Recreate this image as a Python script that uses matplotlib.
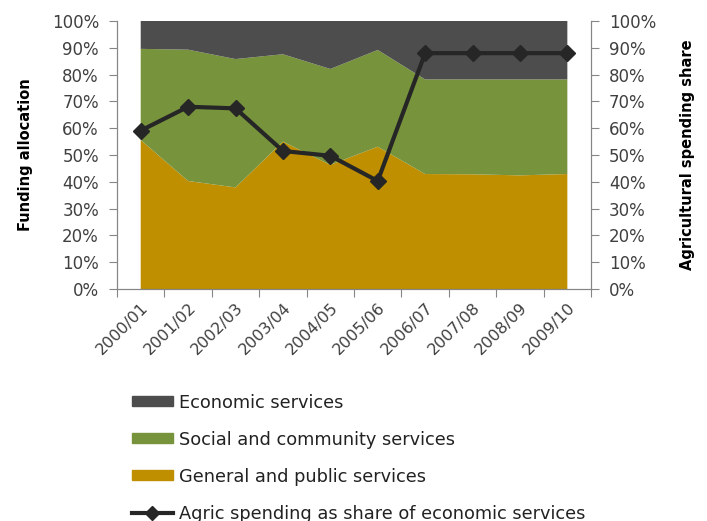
import numpy as np
import matplotlib
matplotlib.use("Agg")
import matplotlib.pyplot as plt
from matplotlib.patches import Patch
from matplotlib.lines import Line2D

plt.rcParams['font.family'] = ['DejaVu Sans']

years = ['2000/01', '2001/02', '2002/03', '2003/04', '2004/05',
         '2005/06', '2006/07', '2007/08', '2008/09', '2009/10']
general = [55.6, 40.3, 37.9, 55.0, 46.3, 53.1, 42.9, 42.8, 42.4, 42.9]
social_top = [89.6, 89.3, 85.8, 87.6, 82.1, 89.2, 78.2, 78.2, 78.2, 78.2]
social = [s - g for s, g in zip(social_top, general)]
economic = [100 - s for s in social_top]
agric = [59.1, 68.0, 67.4, 51.5, 49.7, 40.3, 88.0, 88.0, 88.0, 88.0]

c_gen = '#BF8F00'
c_soc = '#77933C'
c_eco = '#4D4D4D'
c_line = '#262626'
c_axis = '#868686'
c_text = '#404040'

fig = plt.figure(figsize=(7.07, 5.21), dpi=100)
ax = fig.add_axes([0.1655, 0.4453, 0.6705, 0.5144])
x = np.arange(len(years))
ax.stackplot(x, general, social, economic, colors=[c_gen, c_soc, c_eco], lw=0)
ax.set_xlim(-0.5, len(years) - 0.5)
ax.set_ylim(0, 100)
pct = ['%d%%' % v for v in range(0, 101, 10)]
ax.set_yticks(np.arange(0, 101, 10))
ax.set_yticklabels(pct, fontsize=12, color=c_text)
ax.set_xticks(np.arange(-0.5, len(years), 1.0))
ax.set_xticklabels([])
ax.set_xticks(x, minor=True)
ax.set_xticklabels(years, minor=True, rotation=45, ha='right',
                   rotation_mode='anchor', fontsize=11.5, color=c_text)
ax.tick_params(axis='x', which='minor', length=0, pad=8)
ax.tick_params(axis='both', which='major', color=c_axis, length=6, pad=7)
ax.spines['top'].set_visible(False)
for s in ['left', 'bottom', 'right']:
    ax.spines[s].set_color(c_axis)
ax.set_ylabel('Funding allocation', fontweight='bold', fontsize=10.5)
ax.yaxis.set_label_coords(-0.177, 0.5)

ax2 = ax.twinx()
ax2.plot(x, agric, color=c_line, lw=3, marker='D', markersize=8)
ax2.set_ylim(0, 100)
ax2.set_yticks(np.arange(0, 101, 10))
ax2.set_yticklabels(pct, fontsize=12, color=c_text)
ax2.tick_params(axis='y', color=c_axis, length=6, pad=7)
ax2.spines['top'].set_visible(False)
for s in ['left', 'bottom', 'right']:
    ax2.spines[s].set_color(c_axis)
ax2.set_ylabel('Agricultural spending share', fontweight='bold', fontsize=10.5)
ax2.yaxis.set_label_coords(1.188, 0.5)

handles = [Patch(color=c_eco), Patch(color=c_soc), Patch(color=c_gen),
           Line2D([], [], color=c_line, lw=3, marker='D', markersize=7)]
labels = ['Economic services', 'Social and community services',
          'General and public services',
          'Agric spending as share of economic services']
fig.legend(handles, labels, loc='upper left', bbox_to_anchor=(0.1765, 0.258),
           frameon=False, fontsize=12.8, handlelength=2.3, handleheight=0.5,
           labelspacing=1.07, handletextpad=0.34, borderaxespad=0,
           labelcolor='#222222')

fig.savefig('out.png', dpi=100)
